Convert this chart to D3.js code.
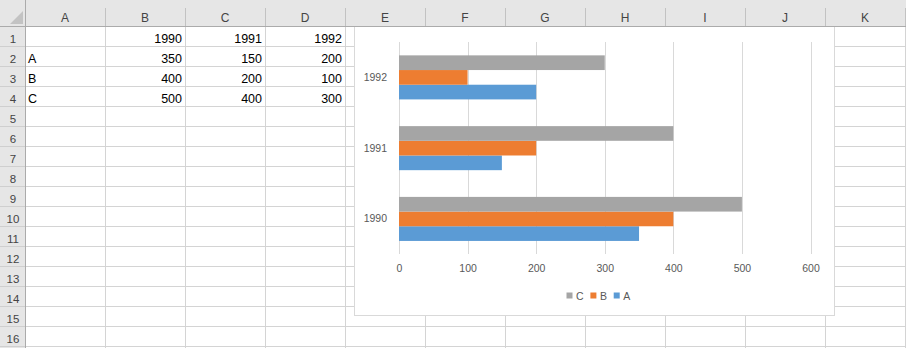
<!DOCTYPE html>
<html>
<head>
<meta charset="utf-8">
<script src="https://cdnjs.cloudflare.com/ajax/libs/d3/7.8.5/d3.min.js"></script>
<style>
  html, body { margin: 0; padding: 0; background: #fff; }
  svg { display: block; }
  text { font-family: "Liberation Sans", Arial, sans-serif; }
</style>
</head>
<body>
<svg id="sheet" width="906" height="348"></svg>
<script>
// Worksheet data: years across row 1, series names down column A
const years = ["1990", "1991", "1992"];
const seriesNames = ["A", "B", "C"];
const valuesA = [350, 150, 200];
const valuesB = [400, 200, 100];
const valuesC = [500, 400, 300];
const columnLetters = ["A", "B", "C", "D", "E", "F", "G", "H", "I", "J", "K"];
const rowCount = 16;
const axisTicks = [0, 100, 200, 300, 400, 500, 600];
const seriesColors = ["#5B9BD5", "#ED7D31", "#A5A5A5"];

const seriesValues = [valuesA, valuesB, valuesC];

const W = 906, H = 348;
const rowHeaderW = 25, headerH = 27, colW = 80, rowH = 20;
const svg = d3.select("#sheet");

// ---------- cell grid ----------
const colX = d3.scaleLinear().domain([0, columnLetters.length]).range([rowHeaderW, rowHeaderW + colW * columnLetters.length]);
const rowY = d3.scaleLinear().domain([0, rowCount]).range([headerH, headerH + rowH * rowCount]);

const grid = svg.append("g").attr("stroke", "#d4d4d4").attr("shape-rendering", "crispEdges");
d3.range(1, columnLetters.length + 1).forEach(i => {
  grid.append("line").attr("x1", colX(i) + 0.5).attr("x2", colX(i) + 0.5)
    .attr("y1", headerH).attr("y2", H);
});
d3.range(1, rowCount + 1).forEach(j => {
  grid.append("line").attr("x1", rowHeaderW).attr("x2", W)
    .attr("y1", rowY(j) - 0.5).attr("y2", rowY(j) - 0.5);
});

// cell contents built from the arrays
const cells = [];
years.forEach((y, c) => cells.push({ row: 0, col: c + 1, text: y, num: true }));
seriesNames.forEach((s, r) => {
  cells.push({ row: r + 1, col: 0, text: s, num: false });
  seriesValues[r].forEach((v, c) => cells.push({ row: r + 1, col: c + 1, text: String(v), num: true }));
});
svg.append("g").selectAll("text").data(cells).join("text")
  .attr("x", d => d.num ? colX(d.col + 1) - 3 : colX(d.col) + 3)
  .attr("y", d => rowY(d.row + 1) - 4)
  .attr("text-anchor", d => d.num ? "end" : "start")
  .attr("font-size", "12.5px")
  .attr("fill", "#000")
  .text(d => d.text);

// ---------- chart object ----------
const chart = svg.append("g");
chart.append("rect")
  .attr("x", 354.5).attr("y", 10.5).attr("width", 480).attr("height", 305)
  .attr("fill", "#fff").attr("stroke", "#d9d9d9");

const x = d3.scaleLinear().domain([0, 600]).range([399, 810.5]);
const gapWidth = 1.82;
const pad = gapWidth / (seriesNames.length + gapWidth);
const y = d3.scaleBand().domain(years.slice().reverse()).range([42, 254.3])
  .paddingInner(pad).paddingOuter(pad / 2);
const ySeries = d3.scaleBand().domain(seriesNames.slice().reverse()).range([0, y.bandwidth()]);

// vertical gridlines
chart.append("g").selectAll("line").data(axisTicks).join("line")
  .attr("x1", d => Math.round(x(d)) + 0.5).attr("x2", d => Math.round(x(d)) + 0.5)
  .attr("y1", 42).attr("y2", 254)
  .attr("stroke", "#d9d9d9").attr("shape-rendering", "crispEdges");

// bars
const barData = [];
seriesNames.forEach((s, si) => years.forEach((yr, yi) => barData.push({ s, si, yr, v: seriesValues[si][yi] })));
chart.append("g").selectAll("rect").data(barData).join("rect")
  .attr("x", x(0))
  .attr("y", d => y(d.yr) + ySeries(d.s))
  .attr("width", d => x(d.v) - x(0))
  .attr("height", ySeries.bandwidth())
  .attr("fill", d => seriesColors[d.si]);

// value axis labels
const xAxis = d3.axisBottom(x).tickValues(axisTicks).tickSize(0).tickPadding(0);
const xg = chart.append("g").attr("transform", "translate(0,265)").call(xAxis);
xg.select(".domain").remove();
xg.selectAll("text").attr("font-size", "10.5px").attr("fill", "#595959")
  .attr("font-family", "Liberation Sans, Arial, sans-serif");

// category axis labels
const yAxis = d3.axisLeft(y).tickSize(0).tickPadding(12);
const yg = chart.append("g").attr("transform", `translate(${x(0)},0)`).call(yAxis);
yg.select(".domain").remove();
yg.selectAll("text").attr("font-size", "10.5px").attr("fill", "#595959")
  .attr("font-family", "Liberation Sans, Arial, sans-serif");

// legend (reverse series order, as drawn in the stack)
const legend = chart.append("g");
let lx = 566.5;
seriesNames.map((s, i) => ({ s, i })).reverse().forEach(d => {
  legend.append("rect").attr("x", lx).attr("y", 292.5).attr("width", 6).attr("height", 6)
    .attr("fill", seriesColors[d.i]);
  const t = legend.append("text").attr("x", lx + 9.5).attr("y", 299.5)
    .attr("font-size", "10.5px").attr("fill", "#595959").text(d.s);
  lx += 9.5 + t.node().getComputedTextLength() + 6.8;
});

// ---------- headers ----------
const hdr = svg.append("g");
hdr.append("rect").attr("x", 0).attr("y", 0).attr("width", W).attr("height", headerH).attr("fill", "#e6e6e6");
hdr.append("rect").attr("x", 0).attr("y", 0).attr("width", rowHeaderW).attr("height", H).attr("fill", "#e6e6e6");

// corner triangle
hdr.append("path").attr("d", "M23,11 L23,24 L10,24 Z").attr("fill", "#c3c3c3");

// column header separators and letters
d3.range(1, columnLetters.length + 1).forEach(i => {
  hdr.append("line").attr("x1", colX(i) + 0.5).attr("x2", colX(i) + 0.5)
    .attr("y1", 8).attr("y2", headerH).attr("stroke", "#c2c2c2").attr("shape-rendering", "crispEdges");
});
hdr.selectAll("text.col").data(columnLetters).join("text").attr("class", "col")
  .attr("x", (d, i) => colX(i) + colW / 2)
  .attr("y", 21.5)
  .attr("text-anchor", "middle").attr("font-size", "12px").attr("fill", "#444")
  .text(d => d);

// row header separators and numbers
d3.range(1, rowCount + 1).forEach(j => {
  hdr.append("line").attr("x1", 0).attr("x2", rowHeaderW)
    .attr("y1", rowY(j) - 0.5).attr("y2", rowY(j) - 0.5)
    .attr("stroke", "#cfcfcf").attr("shape-rendering", "crispEdges");
});
hdr.selectAll("text.row").data(d3.range(1, rowCount + 1)).join("text").attr("class", "row")
  .attr("x", 13)
  .attr("y", d => rowY(d) - 4)
  .attr("text-anchor", "middle").attr("font-size", "11.5px").attr("fill", "#444")
  .text(d => d);

// header borders
hdr.append("line").attr("x1", 0).attr("x2", W).attr("y1", headerH - 0.5).attr("y2", headerH - 0.5)
  .attr("stroke", "#ababab").attr("shape-rendering", "crispEdges");
hdr.append("line").attr("x1", rowHeaderW + 0.5).attr("x2", rowHeaderW + 0.5).attr("y1", 0).attr("y2", H)
  .attr("stroke", "#ababab").attr("shape-rendering", "crispEdges");
</script>
</body>
</html>
